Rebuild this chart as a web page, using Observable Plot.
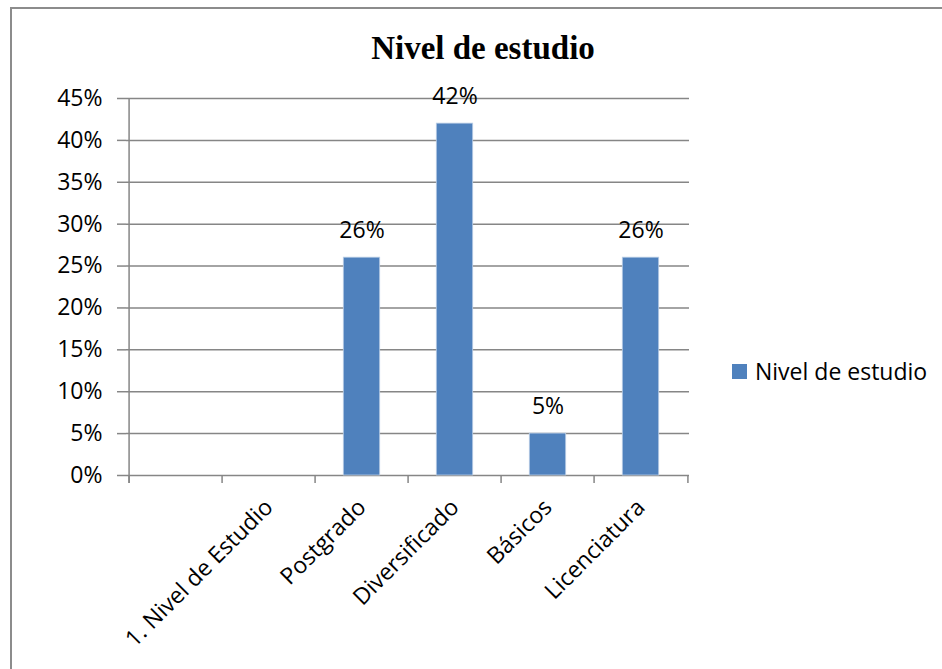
<!DOCTYPE html>
<html><head><meta charset="utf-8">
<script src="https://cdn.jsdelivr.net/npm/d3@7"></script>
<script src="https://cdn.jsdelivr.net/npm/@observablehq/plot@0.6"></script>
<style>
body{margin:0;background:#fff;}
#wrap{position:relative;width:942px;height:669px;overflow:hidden;background:#fff;}
#border{position:absolute;left:10px;top:7px;width:960px;height:700px;border-left:2px solid #8c8c8c;border-top:2px solid #8c8c8c;}
#title{position:absolute;left:0;width:966px;top:30px;text-align:center;font-family:"Liberation Serif","Times New Roman",serif;font-weight:bold;font-size:33px;line-height:36px;color:#000;}
#chart{position:absolute;left:0;top:0;}
#legend{position:absolute;left:732px;top:355px;height:32px;display:flex;align-items:center;font-family:"Open Sans",sans-serif;font-size:23px;color:#000;}
#legend .sw{width:15px;height:15px;background:#4F81BD;margin-right:8px;}
</style>
</head><body>
<div id="wrap">
  <div id="border"></div>
  <div id="chart"></div>
  <div id="title">Nivel de estudio</div>
  <div id="legend"><div class="sw"></div><span id="legtext"></span></div>
</div>
<script>
const seriesName = "Nivel de estudio";
const categories = [" ", "1. Nivel de Estudio", "Postgrado", "Diversificado", "Básicos", "Licenciatura"];
const values = [null, null, 0.26, 0.42, 0.05, 0.26];
const yTicks = [0, 0.05, 0.10, 0.15, 0.20, 0.25, 0.30, 0.35, 0.40, 0.45];

document.getElementById("legtext").textContent = seriesName;

const data = categories.map((c, i) => ({category: c, value: values[i]}));
const shown = data.filter(d => d.value != null);

const W = 942, H = 669, mL = 126, mR = 253, mT = 98, mB = 194;
const step = (W - mL - mR) / categories.length;
const grid = "#868686";

const chart = Plot.plot({
  width: W, height: H,
  marginLeft: mL, marginRight: mR, marginTop: mT, marginBottom: mB,
  style: {fontFamily: '"Open Sans", sans-serif', fontSize: "23px", color: "#000", background: "transparent", overflow: "visible"},
  x: {type: "band", domain: categories, padding: 0},
  y: {domain: [0, 0.45]},
  marks: [
    Plot.gridY(yTicks, {stroke: grid, strokeOpacity: 1, strokeWidth: 1.5}),
    Plot.axisY({ticks: yTicks, tickFormat: d => Math.round(d * 100) + "%", tickSize: 9, tickPadding: 15, stroke: grid, strokeOpacity: 1, strokeWidth: 1.5, label: null, fontSize: 23, fill: "#000"}),
    Plot.barY(shown, {x: "category", y: "value", fill: "#4F81BD", stroke: "#b9cde5", strokeWidth: 0.8, insetLeft: 28.3, insetRight: 28.3}),
    Plot.ruleX([categories[0]], {x: d => d, dx: -step / 2, stroke: grid, strokeWidth: 1.5, insetBottom: -8}),
    Plot.ruleX(categories, {x: d => d, y1: 0, y2: 0, dx: -step / 2, stroke: grid, strokeWidth: 1.5, insetBottom: -8}),
    Plot.ruleX([categories[categories.length - 1]], {x: d => d, y1: 0, y2: 0, dx: step / 2, stroke: grid, strokeWidth: 1.5, insetBottom: -8}),
    Plot.text(shown, {x: "category", y: "value", text: d => Math.round(d.value * 100) + "%", dy: -27, fontSize: 23, fill: "#000"}),
    Plot.axisX({tickRotate: -45, tickSize: 0, tickPadding: 28, label: null, fontSize: 23, fill: "#000"})
  ]
});
document.getElementById("chart").appendChild(chart);
</script>
</body></html>
